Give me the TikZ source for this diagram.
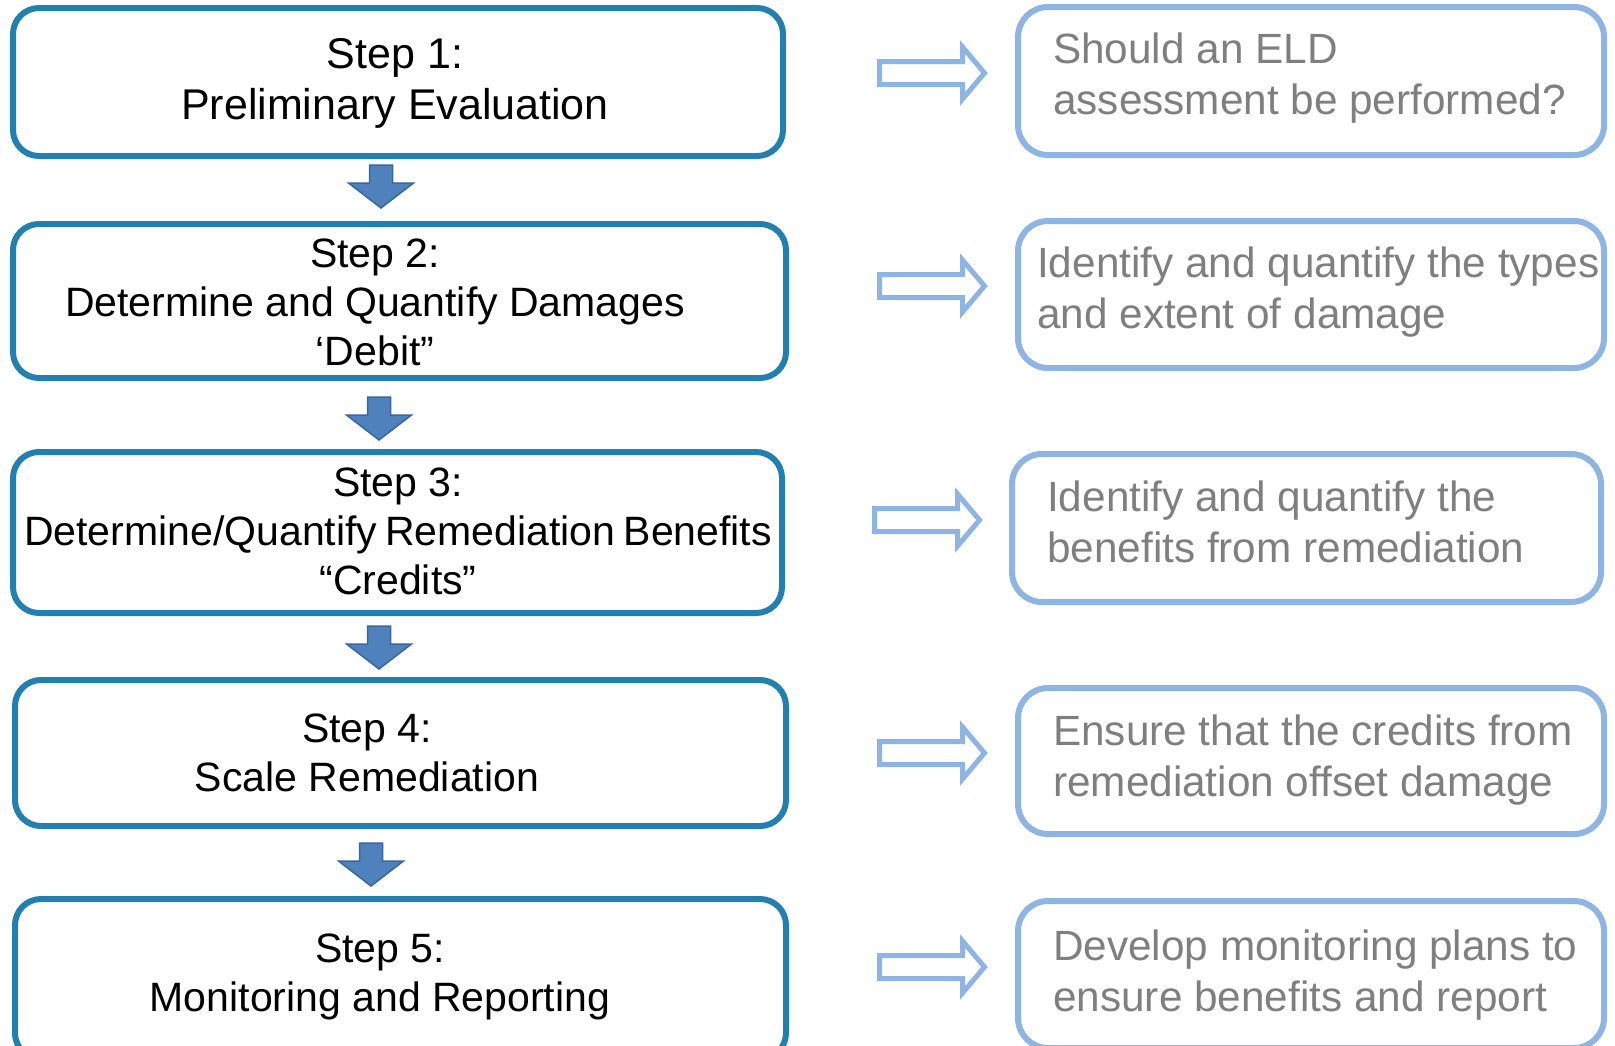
\documentclass[tikz,border=0pt]{standalone}
\usepackage{fontspec}
\setmainfont{Liberation Sans}
\usetikzlibrary{calc}
\definecolor{stepblue}{HTML}{2180B0}
\definecolor{noteblue}{HTML}{8DB4E2}
\definecolor{notegray}{HTML}{7F7F7F}
\definecolor{arrowfill}{HTML}{4F81BD}
\definecolor{arrowedge}{HTML}{3A679C}
\tikzset{
  stepbox/.style={draw=stepblue, line width=6pt, rounded corners=26pt, fill=white, inner sep=0pt},
  notebox/.style={draw=noteblue, line width=6pt, rounded corners=30pt, fill=white, inner sep=0pt},
  steptext/.style={font=\fontsize{41}{49}\selectfont, align=center, text=black, inner sep=0pt},
  notetext/.style={font=\fontsize{42.3}{51}\selectfont, align=left, text=notegray, anchor=west, inner sep=0pt},
  downarr/.pic={
    \draw[fill=arrowfill, draw=arrowedge, line width=1.5pt, line join=miter]
      (-11.5,0) -- (11.5,0) -- (11.5,18) -- (32.5,18) -- (0,43)
      -- (-32.5,18) -- (-11.5,18) -- cycle;
  },
  rightarr/.pic={
    \draw[draw=noteblue, line width=5pt, fill=white, line join=miter]
      (2.5,-11.5) -- (85.5,-11.5) -- (85.5,-26) -- (107.5,0)
      -- (85.5,26) -- (85.5,11.5) -- (2.5,11.5) -- cycle;
  }
}
\begin{document}
\begin{tikzpicture}[x=1pt, y=-1pt]
\useasboundingbox (0,0) rectangle (1615,1045);
\clip (0,0) rectangle (1615,1045);

% step boxes on the left
\node[stepbox, minimum width=770pt, minimum height=148pt] (s1) at (398,82) {};
\node[stepbox, minimum width=773pt, minimum height=154pt] (s2) at (399.5,301) {};
\node[stepbox, minimum width=769pt, minimum height=161pt] (s3) at (397.5,532.5) {};
\node[stepbox, minimum width=771pt, minimum height=146pt] (s4) at (400.5,753) {};
\node[stepbox, minimum width=771pt, minimum height=160pt] (s5) at (400.5,979) {};

\node[steptext, font=\fontsize{43}{51}\selectfont] (t1) at (395,83) {Step 1:\\Preliminary Evaluation};
\node[steptext] (t2) at (375,302) {Step 2:\\Determine and Quantify Damages\\‘Debit”};
\node[steptext] (t3) at (398,531) {Step 3:\\{\spaceskip=0.2em Determine/Quantify Remediation Benefits}\\“Credits”};
\node[steptext] (t4) at (367,753) {Step 4:\\Scale Remediation};
\node[steptext] (t5) at (380,977) {Step 5:\\Monitoring and Reporting};

% block arrows between the steps
\pic (d1) at (381,165) {downarr};
\pic (d2) at (379,397) {downarr};
\pic (d3) at (379,626) {downarr};
\pic (d4) at (371,843) {downarr};

% outcome boxes on the right
\node[notebox, minimum width=586pt, minimum height=148pt] (r1) at (1311,81) {};
\node[notebox, minimum width=586pt, minimum height=147pt] (r2) at (1311,294.5) {};
\node[notebox, minimum width=589pt, minimum height=148pt] (r3) at (1306.5,528) {};
\node[notebox, minimum width=586pt, minimum height=146pt] (r4) at (1311,761) {};
\node[notebox, minimum width=586pt, minimum height=147pt] (r5) at (1311,974.5) {};

\node[notetext] (n1) at (1053,78) {Should an ELD\\assessment be performed?};
\node[notetext] (n2) at (1037,292) {Identify and quantify the types\\and extent of damage};
\node[notetext] (n3) at (1047,522) {Identify and quantify the\\benefits from remediation};
\node[notetext] (n4) at (1053,760.5) {Ensure that the credits from\\remediation offset damage};
\node[notetext] (n5) at (1053,975) {Develop monitoring plans to\\ensure benefits and report};

% outline arrows from each step to its outcome
\pic (a1) at (877,73) {rightarr};
\pic (a2) at (877,286) {rightarr};
\pic (a3) at (872,520) {rightarr};
\pic (a4) at (877,753) {rightarr};
\pic (a5) at (877,967) {rightarr};
\end{tikzpicture}
\end{document}
